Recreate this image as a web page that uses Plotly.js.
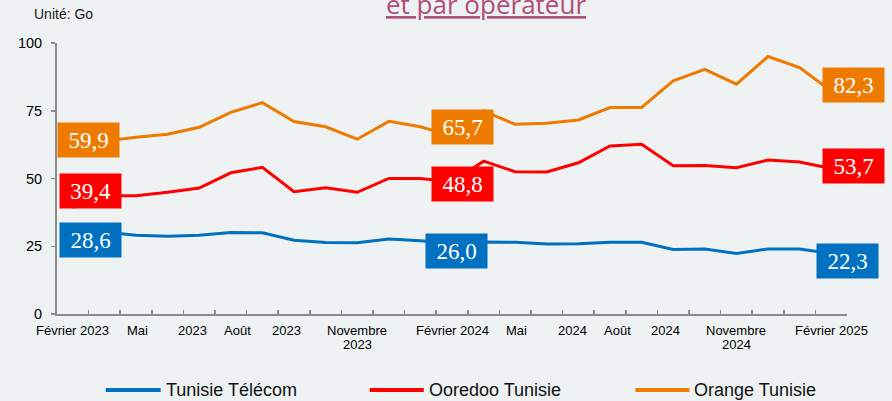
<!DOCTYPE html>
<html>
<head>
<meta charset="utf-8">
<script src="https://cdn.plot.ly/plotly-3.0.1.min.js"></script>
<style>
  html, body { margin: 0; padding: 0; background: #EEF2F3; }
  #chart { width: 892px; height: 401px; }
</style>
</head>
<body>
<div id="chart"></div>
<script>
// ---------- DATA ----------
const months = [
  'Février 2023','Mars 2023','Avril 2023','Mai 2023','Juin 2023','Juillet 2023','Août 2023',
  'Septembre 2023','Octobre 2023','Novembre 2023','Décembre 2023','Janvier 2024','Février 2024',
  'Mars 2024','Avril 2024','Mai 2024','Juin 2024','Juillet 2024','Août 2024','Septembre 2024',
  'Octobre 2024','Novembre 2024','Décembre 2024','Janvier 2025','Février 2025'
];
const tunisieTelecom = [28.6, 30.3, 29.1, 28.7, 29.1, 30.1, 30.0, 27.2, 26.4, 26.3, 27.7, 27.0, 26.0,
                        26.6, 26.5, 25.8, 25.9, 26.5, 26.5, 23.8, 24.0, 22.3, 24.0, 24.0, 22.3];
const ooredooTunisie = [39.4, 43.6, 43.6, 44.9, 46.5, 52.1, 54.1, 45.1, 46.6, 44.9, 50.0, 50.0, 48.8,
                        56.4, 52.5, 52.4, 55.8, 62.0, 62.6, 54.7, 54.8, 54.0, 56.8, 56.1, 53.7];
const orangeTunisie  = [59.9, 63.8, 65.2, 66.3, 68.9, 74.4, 78.0, 71.0, 69.1, 64.5, 71.1, 69.1, 65.7,
                        74.9, 70.0, 70.4, 71.6, 76.2, 76.2, 86.0, 90.3, 84.8, 95.0, 90.9, 82.3];
const seriesNames = ['Tunisie Télécom', 'Ooredoo Tunisie', 'Orange Tunisie'];
const labelIndices = [0, 12, 24];
const xTickText = ['Février 2023','Mai','2023','Août','2023','Novembre<br>2023','Février 2024',
                   'Mai','2024','Août','2024','Novembre<br>2024','Février 2025'];
const xTickPos  = [0, 2.05, 3.8, 5.22, 6.75, 9, 12, 14.05, 15.8, 17.25, 18.75, 21, 24];
const yTicks = [0, 25, 50, 75, 100];

// ---------- STYLE / LAYOUT ----------
const W = 892, H = 401;
const M = {l: 57, r: 45, t: 43, b: 87};
const px = x => (x - M.l) / (W - M.l - M.r);
const py = y => (H - M.b - y) / (H - M.t - M.b);
const colors = ['#0070C0', '#FF0000', '#EE7B00'];
const values = [tunisieTelecom, ooredooTunisie, orangeTunisie];
// value-box offsets (pixels) per series, per labelled index
const boxShift = [
  [[17.7, -3.2], [4, -7], [16, -7.6]],
  [[17.7, 16], [10.5, -2.3], [22.5, 2.4]],
  [[15.7, 11.2], [10.5, 8.5], [22.5, 6]]
];
const legendPos = [[105.7, 160.7, 165], [369.7, 423.8, 428], [635.4, 689.4, 693]];
const axisGray = '#8C8C8C';
const tickFont = {family: 'Liberation Sans, Arial, sans-serif', size: 13, color: '#000000'};
const xIdx = months.map((_, i) => i);

const traces = values.map((v, s) => ({
  type: 'scatter', mode: 'lines', x: xIdx, y: v, name: seriesNames[s],
  line: {color: colors[s], width: 3}, hoverinfo: 'skip', showlegend: false
}));

const annotations = [];
values.forEach((v, s) => {
  labelIndices.forEach((idx, k) => {
    annotations.push({
      x: idx, y: v[idx], xref: 'x', yref: 'y', showarrow: false,
      text: v[idx].toFixed(1).replace('.', ','),
      font: {family: 'Liberation Serif, serif', size: 23, color: '#FFFFFF'},
      bgcolor: colors[s], width: 61, height: 34, borderpad: 0,
      xshift: boxShift[s][k][0], yshift: boxShift[s][k][1]
    });
  });
});
// x tick labels (category-axis labels placed through the x scale)
xTickText.forEach((t, i) => {
  t.split('<br>').forEach((line, k) => {
    annotations.push({
      x: xTickPos[i], xref: 'x', yref: 'paper', y: py(330 + 14.5 * k),
      xanchor: 'center', yanchor: 'middle', showarrow: false, text: line,
      font: tickFont, borderpad: 0
    });
  });
});
// title fragment
annotations.push({
  xref: 'paper', yref: 'paper', x: px(486), y: py(4), xanchor: 'center', yanchor: 'middle',
  showarrow: false, text: 'et par opérateur',
  font: {family: 'Open Sans, sans-serif', size: 26, color: '#B04E7C', lineposition: 'under'}
});
// unit
annotations.push({
  xref: 'paper', yref: 'paper', x: px(32), y: py(13.5), xanchor: 'left', yanchor: 'middle',
  showarrow: false, text: 'Unité: Go',
  font: {family: 'Liberation Sans, Arial, sans-serif', size: 14, color: '#1A1A1A'}
});
// legend
const shapes = [];
seriesNames.forEach((n, s) => {
  shapes.push({type: 'line', xref: 'paper', yref: 'paper',
    x0: px(legendPos[s][0]), x1: px(legendPos[s][1]), y0: py(390), y1: py(390),
    line: {color: colors[s], width: 4}});
  annotations.push({xref: 'paper', yref: 'paper', x: px(legendPos[s][2]), y: py(390),
    xanchor: 'left', yanchor: 'middle', showarrow: false, text: n, borderpad: 0,
    font: {family: 'Liberation Sans, Arial, sans-serif', size: 18, color: '#111111'}});
});

const layout = {
  width: W, height: H, margin: M,
  paper_bgcolor: '#EEF2F3', plot_bgcolor: '#EEF2F3',
  showlegend: false,
  xaxis: {
    range: [-0.5, months.length - 0.5], tickmode: 'array',
    tickvals: months.map((_, i) => i - 0.5).concat([months.length - 0.5]),
    ticks: 'inside', ticklen: 4, tickwidth: 1.5, tickcolor: axisGray,
    showticklabels: false, showline: true, linecolor: axisGray, linewidth: 2,
    showgrid: false, zeroline: false, fixedrange: true
  },
  yaxis: {
    range: [0, 100], tickmode: 'array', tickvals: yTicks,
    ticks: 'outside', ticklen: 4, tickwidth: 1.5, tickcolor: axisGray,
    showline: true, linecolor: axisGray, linewidth: 2, ticklabelstandoff: 6,
    showgrid: false, zeroline: false, fixedrange: true,
    tickfont: {family: 'Liberation Sans, Arial, sans-serif', size: 14.5, color: '#000000'}
  },
  annotations: annotations,
  shapes: shapes
};

Plotly.newPlot('chart', traces, layout, {displayModeBar: false, staticPlot: true});
</script>
</body>
</html>
